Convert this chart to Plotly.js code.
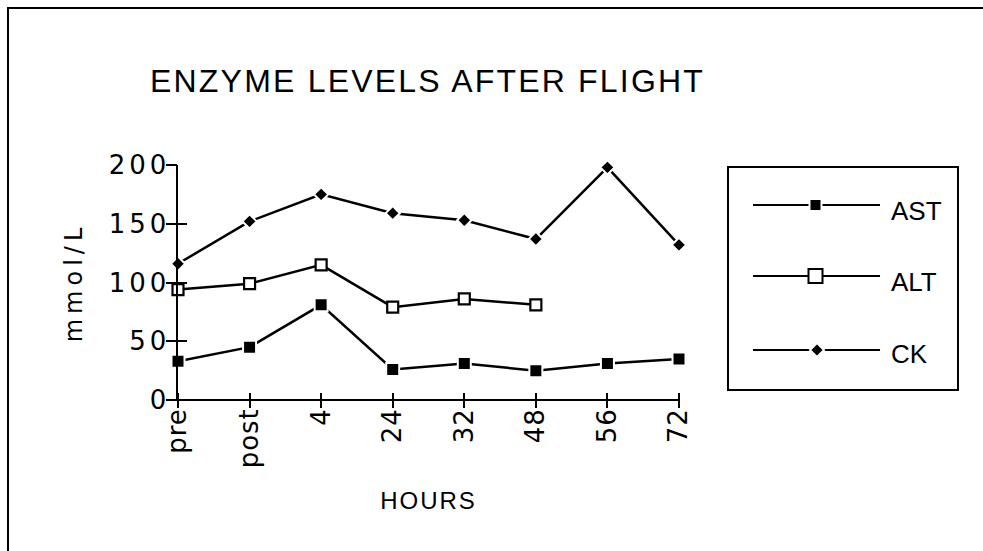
<!DOCTYPE html>
<html>
<head>
<meta charset="utf-8">
<script src="https://cdn.plot.ly/plotly-3.0.1.min.js"></script>
<style>
  html, body { margin: 0; padding: 0; background: #fff; overflow: hidden; }
  #wrap { position: relative; width: 983px; height: 551px; overflow: hidden; }
  #chart { width: 983px; height: 551px; }
  #frame { position: absolute; left: 7px; top: 7px; width: 1100px; height: 700px;
    border-left: 2px solid #000; border-top: 2px solid #000; pointer-events: none; }
  .gtitle { letter-spacing: 2.2px; }
  .xtitle { letter-spacing: 2px; }
  .ytitle { letter-spacing: 5px; }
  .xtick text { letter-spacing: 1px; }
  .ytick text { letter-spacing: 4px; }
</style>
</head>
<body>
<div id="wrap"><div id="chart"></div><div id="frame"></div></div>
<script>
// ---- data ----
const categories = ['pre', 'post', '4', '24', '32', '48', '56', '72'];
const astValues = [33, 45, 81, 26, 31, 25, 31, 35];
const altValues = [94, 99, 115, 79, 86, 81, null, null];
const ckValues  = [116, 152, 175, 159, 153, 137, 198, 132];
const seriesNames = ['AST', 'ALT', 'CK'];
const yTicks = [0, 50, 100, 150, 200];
const chartTitle = 'ENZYME LEVELS AFTER FLIGHT';
const xTitle = 'HOURS';
const yTitle = 'mmol/L';

// ---- geometry helpers (pixel -> paper) ----
const W = 983, H = 551;
const M = { l: 178, r: 304, t: 165, b: 151 };
const PW = W - M.l - M.r, PH = H - M.t - M.b;
const PX = p => (p - M.l) / PW;
const PY = p => (H - M.b - p) / PH;

const lineStyle = { color: '#000', width: 2.5 };

const traces = [
  { name: seriesNames[0], x: categories, y: astValues, type: 'scatter', mode: 'lines+markers',
    line: lineStyle, cliponaxis: false,
    marker: { symbol: 'square', size: 13, color: '#000', line: { color: '#fff', width: 2 } } },
  { name: seriesNames[1], x: categories, y: altValues, type: 'scatter', mode: 'lines+markers',
    line: lineStyle, cliponaxis: false, connectgaps: false,
    marker: { symbol: 'square', size: 11, color: '#fff', line: { color: '#000', width: 2.2 } } },
  { name: seriesNames[2], x: categories, y: ckValues, type: 'scatter', mode: 'lines+markers',
    line: lineStyle, cliponaxis: false,
    marker: { symbol: 'diamond', size: 11, color: '#000', line: { color: '#fff', width: 2 } } },
  // invisible copies that only activate the overlay axes carrying the crossing tick marks
  { name: 'x-ticks', x: categories, y: astValues, xaxis: 'x2', yaxis: 'y', type: 'scatter', mode: 'markers',
    opacity: 0, hoverinfo: 'skip', showlegend: false },
  { name: 'y-ticks', x: categories, y: astValues, xaxis: 'x', yaxis: 'y2', type: 'scatter', mode: 'markers',
    opacity: 0, hoverinfo: 'skip', showlegend: false }
];

const tickFont = { family: 'DejaVu Sans', size: 26, color: '#000' };

// ---- custom legend ----
const legRows = [205, 276, 350];
const legText = [211, 282, 354];
const shapes = [
  { type: 'rect', xref: 'paper', yref: 'paper', x0: PX(728), x1: PX(958), y0: PY(167), y1: PY(390),
    line: { color: '#000', width: 2 }, fillcolor: 'rgba(0,0,0,0)' }
];
legRows.forEach(r => shapes.push({ type: 'line', xref: 'paper', yref: 'paper',
  x0: PX(753), x1: PX(880), y0: PY(r), y1: PY(r), line: { color: '#000', width: 2 } }));
shapes.push({ type: 'rect', xref: 'paper', yref: 'paper', x0: PX(809.5), x1: PX(821.5),
  y0: PY(legRows[0] - 6), y1: PY(legRows[0] + 6), fillcolor: '#000', line: { color: '#fff', width: 2 } });
shapes.push({ type: 'rect', xref: 'paper', yref: 'paper', x0: PX(808.5), x1: PX(822.5),
  y0: PY(legRows[1] - 7), y1: PY(legRows[1] + 7), fillcolor: '#fff', line: { color: '#000', width: 2 } });
const dcx = 817, dcy = legRows[2], dd = 7;
shapes.push({ type: 'path', xref: 'paper', yref: 'paper',
  path: `M ${PX(dcx)} ${PY(dcy - dd)} L ${PX(dcx + dd)} ${PY(dcy)} L ${PX(dcx)} ${PY(dcy + dd)} L ${PX(dcx - dd)} ${PY(dcy)} Z`,
  fillcolor: '#000', line: { color: '#fff', width: 2 } });

const annotations = seriesNames.map((n, i) => ({
  text: n, xref: 'paper', yref: 'paper', x: PX(889), y: PY(legText[i]),
  xanchor: 'left', yanchor: 'middle', showarrow: false,
  font: { family: 'Liberation Sans', size: 26, color: '#000' }
}));

const layout = {
  width: W, height: H,
  margin: { l: M.l, r: M.r, t: M.t, b: M.b, pad: 0 },
  paper_bgcolor: '#fff', plot_bgcolor: '#fff',
  showlegend: false,
  title: { text: chartTitle, font: { family: 'Liberation Sans', size: 32, color: '#000' },
    x: 150 / W, xref: 'container', xanchor: 'left',
    y: 1 - 92 / H, yref: 'container', yanchor: 'bottom' },
  // data x axis: carries the labels; the axis line comes from the y zero line
  xaxis: {
    type: 'category', categoryorder: 'array', categoryarray: categories,
    range: [0, categories.length - 1],
    anchor: 'free', position: 0,
    showline: false, ticks: '', ticklabelstandoff: 2,
    tickangle: -90, tickfont: tickFont,
    showgrid: false, zeroline: false, automargin: false,
    title: { text: xTitle, font: { family: 'Liberation Sans', size: 24, color: '#000' }, standoff: 24 }
  },
  // overlay x axis: crossing tick marks
  xaxis2: {
    overlaying: 'x', anchor: 'free', position: 8 / PH, side: 'bottom',
    type: 'category', categoryorder: 'array', categoryarray: categories,
    range: [0, categories.length - 1],
    ticks: 'outside', ticklen: 15, tickwidth: 2, tickcolor: '#000',
    showticklabels: false, showline: false, showgrid: false, zeroline: false
  },
  yaxis: {
    range: [0, 200], tickmode: 'array', tickvals: yTicks,
    showline: true, linecolor: '#000', linewidth: 2.5,
    zeroline: true, zerolinecolor: '#000', zerolinewidth: 2.5,
    ticks: 'inside', ticklen: 9, tickwidth: 2, tickcolor: '#000',
    tickfont: tickFont,
    showgrid: false, automargin: false,
    title: { text: yTitle, font: { family: 'DejaVu Sans', size: 24, color: '#000' }, standoff: 20 }
  },
  yaxis2: {
    overlaying: 'y', anchor: 'x', side: 'left',
    range: [0, 200], tickmode: 'array', tickvals: yTicks,
    ticks: 'outside', ticklen: 11, tickwidth: 2, tickcolor: '#000',
    showticklabels: false, showline: false, showgrid: false, zeroline: false
  },
  shapes: shapes,
  annotations: annotations
};

Plotly.newPlot('chart', traces, layout, { staticPlot: true, displayModeBar: false });
</script>
</body>
</html>
